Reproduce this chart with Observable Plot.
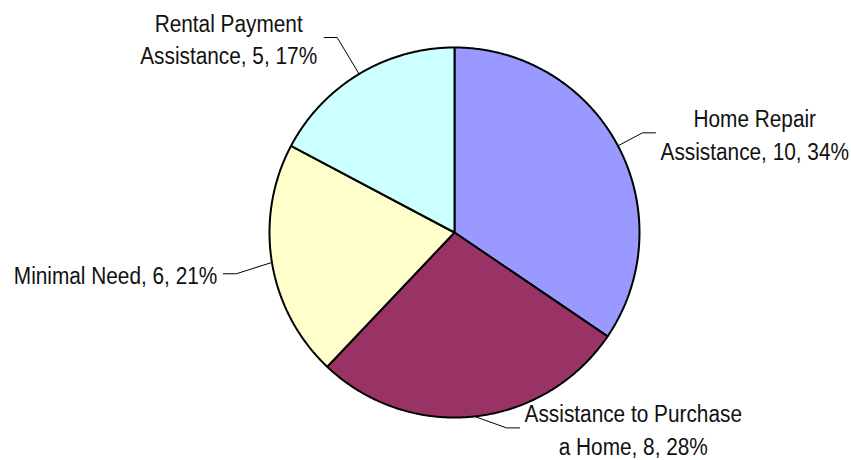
<!DOCTYPE html>
<html><head><meta charset="utf-8">
<script src="https://cdn.jsdelivr.net/npm/d3@7"></script>
<script src="https://cdn.jsdelivr.net/npm/@observablehq/plot@0.6"></script>
<style>html,body{margin:0;padding:0;background:#fff}</style>
</head><body><div id="chart"></div>
<script>
// ---- data ----
const categories = ["Home Repair Assistance", "Assistance to Purchase a Home", "Minimal Need", "Rental Payment Assistance"];
const labelNames = ["Home Repair\nAssistance", "Assistance to Purchase\na Home", "Minimal Need", "Rental Payment\nAssistance"];
const values = [10, 8, 6, 5];
const colors = ["#9999FF", "#993366", "#FFFFCC", "#CCFFFF"];

// ---- layout (not data) ----
const W = 851, H = 460, R = 185;
const FAMILY = "'Liberation Sans', Arial, sans-serif";
const FS = 23, SQUEEZE = 0.905;
const leaderK = [1.15, 1.093, 1.2, 1.23];     // elbow radius factor
const leaderTurn = [0, -8.7, -1.4, 0];          // elbow angle nudge (deg)
const HSEG = 13, GAP = [5, 5, 6, 7];

const total = d3.sum(values);
const rad = d => d * Math.PI / 180;
let acc = 0;
const slices = categories.map((c, i) => {
  const a0 = acc / total * 360; acc += values[i];
  const a1 = acc / total * 360;
  return {c, i, a0, a1, mid: (a0 + a1) / 2, v: values[i], pct: Math.round(values[i] / total * 100)};
});

// polygon vertices for each slice (angle clockwise from top)
const poly = [];
for (const s of slices) {
  poly.push({c: s.c, x: 0, y: 0});
  const n = Math.max(2, Math.ceil((s.a1 - s.a0) / 0.5));
  for (let k = 0; k <= n; k++) {
    const a = rad(s.a0 + (s.a1 - s.a0) * k / n);
    poly.push({c: s.c, x: Math.sin(a), y: Math.cos(a)});
  }
  poly.push({c: s.c, x: 0, y: 0});
}

// leader lines and labels
const ctx = document.createElement("canvas").getContext("2d");
ctx.font = `${FS}px ${FAMILY}`;
const leaders = [], labels = [];
for (const s of slices) {
  const am = rad(s.mid);
  const ae = rad(s.mid + leaderTurn[s.i]);
  const k = leaderK[s.i];
  const right = Math.sin(am) >= 0;
  const sx = Math.sin(am), sy = Math.cos(am);
  const ex = k * Math.sin(ae), ey = k * Math.cos(ae);
  const hx = ex + (right ? 1 : -1) * HSEG / R;
  leaders.push({c: s.c, x: sx, y: sy}, {c: s.c, x: ex, y: ey}, {c: s.c, x: hx, y: ey});
  const text = labelNames[s.i] + ", " + s.v + ", " + s.pct + "%";
  const bw = SQUEEZE * d3.max(text.split("\n"), t => ctx.measureText(t).width);
  labels.push({c: s.c, x: hx, y: ey, text, dx: (right ? 1 : -1) * (GAP[s.i] + bw / 2)});
}

const plot = Plot.plot({
  width: W, height: H,
  marginLeft: 269, marginRight: 212, marginTop: 47, marginBottom: 43,
  x: {domain: [-1, 1], axis: null},
  y: {domain: [-1, 1], axis: null},
  color: {domain: categories, range: colors},
  style: {fontFamily: FAMILY, background: "#fff", overflow: "visible"},
  marks: [
    Plot.line(poly, {x: "x", y: "y", z: "c", fill: "c", stroke: "#000", strokeWidth: 2, strokeLinejoin: "miter", curve: "linear"}),
    Plot.line(leaders, {x: "x", y: "y", z: "c", stroke: "#000", strokeWidth: 1}),
    ...labels.map(l => Plot.text([l], {x: "x", y: "y", text: "text", dx: l.dx, textAnchor: "middle", lineAnchor: "middle", lineHeight: 1.43, fontSize: FS, fill: "#111"}))
  ]
});
document.getElementById("chart").appendChild(plot);
// condense the label glyphs horizontally (narrow face is not installed)
plot.querySelectorAll('g[aria-label="text"] text').forEach(t => {
  const tr = t.getAttribute("transform") || "";
  t.setAttribute("transform", tr + ` scale(${SQUEEZE},1)`);
});
</script>
</body></html>
